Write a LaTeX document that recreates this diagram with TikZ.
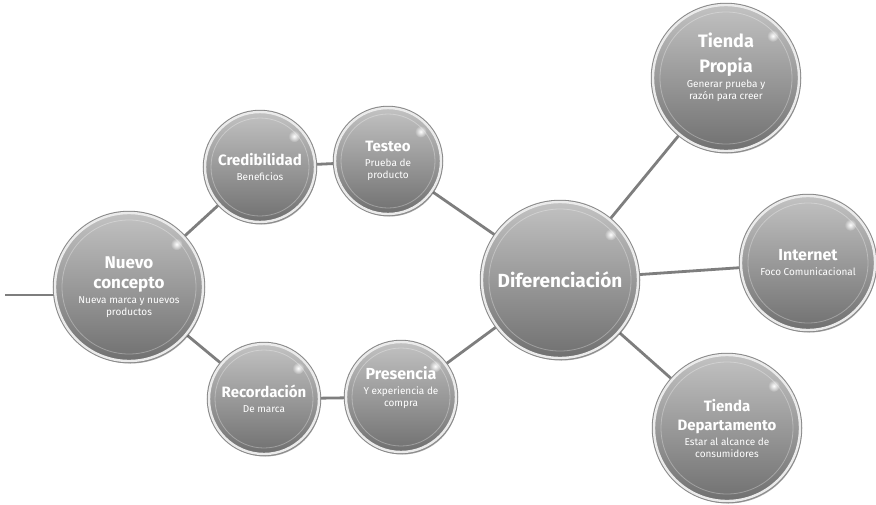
\documentclass[tikz,border=0pt]{standalone}
\usepackage{fontspec}
\setmainfont{Fira Sans}
\usetikzlibrary{shadows,backgrounds,fadings,calc}
\tikzfading[name=myglow, inner color=transparent!0, outer color=transparent!100]
\definecolor{topc}{HTML}{C2C2C2}
\definecolor{botc}{HTML}{707070}
\definecolor{rimL}{HTML}{EBEBEB}
\definecolor{rimD}{HTML}{8A8A8A}
\definecolor{linec}{HTML}{7E7E7E}
\newcommand\Hd[2]{{\fontsize{#1}{#1}\selectfont\bfseries #2}}
\newcommand\Sb[1]{{\fontsize{10}{12}\selectfont\mdseries #1}}
\tikzset{
  bubble/.style={circle, minimum size=#1, inner sep=0pt,
    drop shadow={shadow xshift=1.5pt, shadow yshift=-2.5pt, opacity=.35, fill=black},
    preaction={draw=rimD, line width=4.5pt},
    top color=topc, bottom color=botc, draw=rimL, line width=2.4pt,
    text=white, align=center},
  conn/.style={draw=linec, line width=2.8pt}
}
\begin{document}
\begin{tikzpicture}[x=1pt,y=-1pt]
\useasboundingbox (0,0) rectangle (876,504);

\node[bubble=148pt] (nuevo) at (129,287) {\Hd{17}{Nuevo}\\[8pt]\Hd{17}{concepto}\\[3pt]\Sb{Nueva marca y nuevos}\\\Sb{productos}};
\node[bubble=110pt] (cred) at (260,167) {\Hd{15}{Credibilidad}\\[3pt]\Sb{Beneficios}};
\node[bubble=106pt] (test) at (388,161) {\Hd{15}{Testeo}\\[3pt]\Sb{Prueba de}\\\Sb{producto}};
\node[bubble=110pt] (recor) at (264,399) {\Hd{15}{Recordación}\\[3pt]\Sb{De marca}};
\node[bubble=110pt] (pres) at (401,397) {\Hd{16}{Presencia}\\[3pt]\Sb{Y experiencia de}\\\Sb{compra}\\[8pt]};
\node[bubble=156pt] (dif) at (560,280) {\Hd{19}{Diferenciación}};
\node[bubble=146pt] (tprop) at (726,78) {\Hd{18}{Tienda}\\[9pt]\Hd{18}{Propia}\\[3pt]\Sb{Generar prueba y}\\\Sb{razón para creer}\\[12pt]};
\node[bubble=134pt] (inter) at (808,263) {\Hd{16}{Internet}\\[3pt]\Sb{Foco Comunicacional}};
\node[bubble=146pt] (tdep) at (727,428) {\Hd{15}{Tienda}\\[7pt]\Hd{15}{Departamento}\\[3pt]\Sb{Estar al alcance de}\\\Sb{consumidores}};

\coordinate (start) at (5,295);

\foreach \n/\ri/\rh in {nuevo/67/64, cred/49/46, test/47/44, recor/49/46, pres/49/46, dif/71/68, tprop/66/63, inter/60/57, tdep/66/63}{
  \draw[white, opacity=.3, line width=.8pt] (\n.center) circle[radius=\ri pt];
  \fill[white, path fading=myglow] ($(\n.center)+(42:\rh pt)$) circle[radius=6pt];
}

\begin{scope}[on background layer]
  \fill[white] (0,0) rectangle (876,504);
  \draw[conn] (start) -- (start -| nuevo.center);
  \draw[conn] (nuevo) -- (cred);
  \draw[conn] (cred) -- (test);
  \draw[conn] (test) -- (dif);
  \draw[conn] (nuevo) -- (recor);
  \draw[conn] (recor) -- (pres);
  \draw[conn] (pres) -- (dif);
  \draw[conn] (dif) -- (tprop);
  \draw[conn] (dif) -- (inter);
  \draw[conn] (dif) -- (tdep);
\end{scope}
\end{tikzpicture}
\end{document}
